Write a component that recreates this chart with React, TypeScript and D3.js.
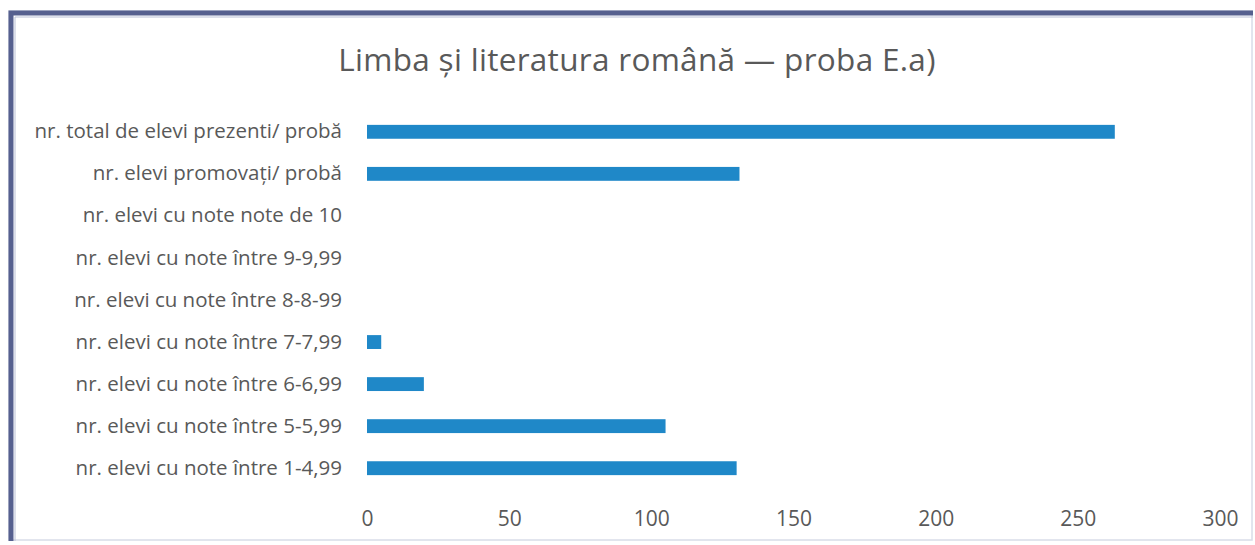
import { useEffect, useRef } from "react";
import * as d3 from "d3";

const categories = [
  "nr. total de elevi prezenti/ probă",
  "nr. elevi promovați/ probă",
  "nr. elevi cu note note de 10",
  "nr. elevi cu note între 9-9,99",
  "nr. elevi cu note între 8-8-99",
  "nr. elevi cu note între 7-7,99",
  "nr. elevi cu note între 6-6,99",
  "nr. elevi cu note între 5-5,99",
  "nr. elevi cu note între 1-4,99",
];
const values = [263, 131, 0, 0, 0, 5, 20, 105, 130];
const xTicks = [0, 50, 100, 150, 200, 250, 300];
const title = "Limba și literatura română — proba E.a)";

const W = 1255;
const H = 545;

const App = () => {
  const svgRef = useRef<SVGSVGElement>(null);

  useEffect(() => {
    const svg = d3.select(svgRef.current);
    svg.selectAll("*").remove();
    const margin = { top: 111, right: 35, bottom: 56, left: 367 };
    const font = "'Open Sans', 'Noto Sans', sans-serif";

    // scanned frame
    svg.append("rect").attr("width", W).attr("height", H).attr("fill", "#fff");
    svg
      .append("rect")
      .attr("x", 9)
      .attr("y", 11)
      .attr("width", 1243)
      .attr("height", 529)
      .attr("fill", "none")
      .attr("stroke", "#d8dde8")
      .attr("stroke-width", 1.5);
    svg
      .append("path")
      .attr("d", "M11,541 V13 H1253")
      .attr("fill", "none")
      .attr("stroke", "#56608f")
      .attr("stroke-width", 5);
    svg
      .append("path")
      .attr("d", "M15,541 V17 H1253")
      .attr("fill", "none")
      .attr("stroke", "#b9c0d6")
      .attr("stroke-width", 1);

    const x = d3
      .scaleLinear()
      .domain([0, 300])
      .range([margin.left, W - margin.right]);
    const y = d3
      .scaleBand()
      .domain(categories)
      .range([margin.top, H - margin.bottom])
      .paddingInner(0.67)
      .paddingOuter(0.33);

    svg
      .append("text")
      .attr("x", 637)
      .attr("y", 71)
      .attr("text-anchor", "middle")
      .attr("font-family", font)
      .attr("font-size", 31.5)
      .attr("letter-spacing", 0.3)
      .attr("fill", "#595959")
      .text(title);

    svg
      .append("g")
      .selectAll("rect")
      .data(values)
      .join("rect")
      .attr("x", x(0))
      .attr("y", (d, i) => y(categories[i])!)
      .attr("width", (d) => x(d) - x(0))
      .attr("height", y.bandwidth())
      .attr("fill", "#1f88c8");

    const yAxis = svg
      .append("g")
      .attr("transform", `translate(${margin.left - 8},0)`)
      .call(d3.axisLeft(y).tickSize(0).tickPadding(17));
    yAxis.select(".domain").remove();
    yAxis
      .selectAll("text")
      .attr("font-family", font)
      .attr("font-size", 20.5)
      .attr("fill", "#595959");

    const xAxis = svg
      .append("g")
      .attr("transform", `translate(0,505)`)
      .call(d3.axisBottom(x).tickValues(xTicks).tickSize(0).tickPadding(6));
    xAxis.select(".domain").remove();
    xAxis
      .selectAll("text")
      .attr("font-family", font)
      .attr("font-size", 21)
      .attr("fill", "#595959");
  }, []);

  return (
    <svg
      ref={svgRef}
      width={W}
      height={H}
      style={{ position: "absolute", left: 0, top: 0 }}
    ></svg>
  );
};

export default App;
